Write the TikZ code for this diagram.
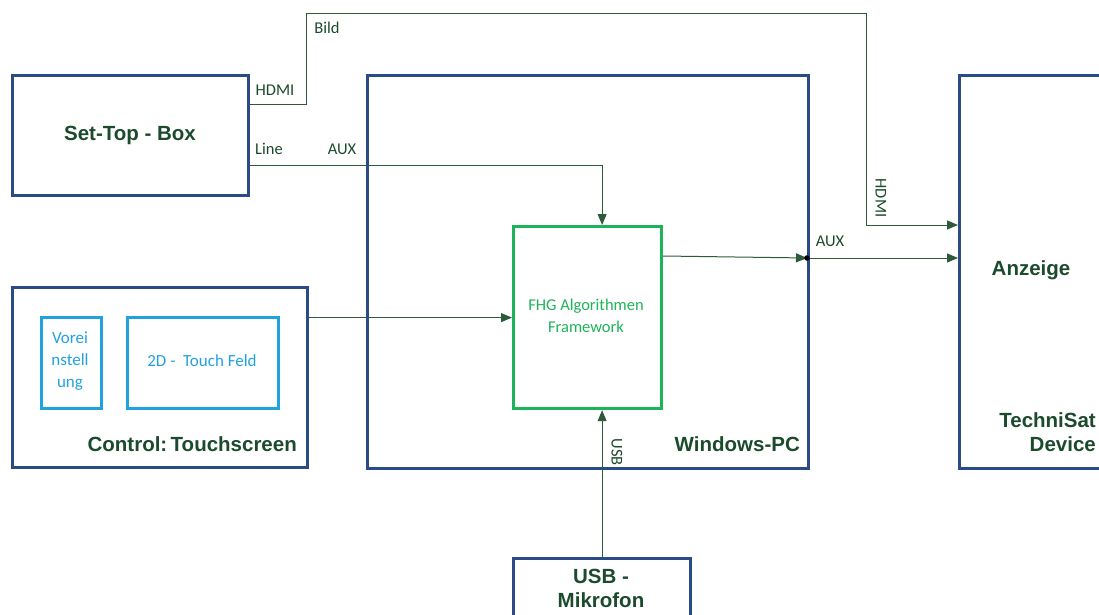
\documentclass[tikz,border=0pt]{standalone}
\usepackage{fontspec}
\setmainfont{Carlito}
\newfontfamily\headfont{Liberation Sans}
\usetikzlibrary{arrows.meta}
\definecolor{boxblue}{HTML}{2A4B85}
\definecolor{txtgreen}{HTML}{1B4A2C}
\definecolor{linegreen}{HTML}{2C5A3B}
\definecolor{lightblue}{HTML}{22A2DD}
\definecolor{fhggreen}{HTML}{1DB359}
\tikzset{
  blk/.style={draw=boxblue, line width=3.2pt, anchor=north west, inner sep=0pt},
  sub/.style={draw=lightblue, line width=3.2pt, anchor=north west, inner sep=0pt},
  fhgbox/.style={draw=fhggreen, line width=3.2pt, anchor=north west, inner sep=0pt},
  conn/.style={draw=linegreen, line width=1pt},
  arr/.style={conn, -{Triangle[length=11pt,width=9pt]}},
  head/.style={font=\headfont\bfseries\fontsize{20.5}{24}\selectfont, text=txtgreen, inner sep=0pt},
  lbl/.style={font=\fontsize{16.5}{18}\selectfont, text=txtgreen, inner sep=0pt},
  bluetxt/.style={font=\fontsize{17}{22}\selectfont, text=lightblue, inner sep=0pt, align=center},
}
\begin{document}
\begin{tikzpicture}[x=1pt,y=-1pt]
\useasboundingbox (0,0) rectangle (1099,615);
\clip (0,0) rectangle (1099,615);
% boxes
\node[blk, minimum width=236pt, minimum height=120pt] (stb) at (11,74) {};
\node[blk, minimum width=441pt, minimum height=393pt] (pc) at (366,74) {};
\node[blk, minimum width=170pt, minimum height=393pt] (anz) at (958,74) {};
\node[blk, minimum width=295pt, minimum height=180pt] (ctrl) at (11,286) {};
\node[sub, minimum width=60pt, minimum height=91pt] (vor) at (40,316) {};
\node[sub, minimum width=151pt, minimum height=91pt] (touch) at (126,316) {};
\node[fhgbox, minimum width=148pt, minimum height=182pt] (fhg) at (512,225) {};
\node[blk, minimum width=177pt, minimum height=90pt] (mic) at (512,557) {};
% box texts
\node[head] (stbt) at (130,135) {Set-Top - Box};
\node[head, anchor=east] (pct) at (800,444) {Windows-PC};
\node[head] (anzt) at (1031,270) {Anzeige};
\node[head, anchor=east, align=right, font=\headfont\bfseries\fontsize{20.5}{24}\selectfont] (tst) at (1096,432) {TechniSat\\Device};
\node[head, anchor=east] (ctrlt) at (297,444) {Control:\,Touchscreen};
\node[head, align=center, font=\headfont\bfseries\fontsize{20.5}{24}\selectfont] (mict) at (601,588) {USB -\\Mikrofon};
\node[bluetxt] (vort) at (70,361) {Vorei\\nstell\\ung};
\node[bluetxt] (toucht) at (202,361) {2D -\ \ Touch Feld};
\node[font=\fontsize{16.5}{22}\selectfont, text=fhggreen, align=center, inner sep=0pt] (fhgt) at (586,316) {FHG Algorithmen\\Framework};
% coordinates
\coordinate (h1) at (306,14);
\coordinate (h2) at (866,225);
\coordinate (dot) at (807,258);
% connectors
\draw[arr] ([yshift=-31pt]stb.north east) -| (h1) -| (h2) -- (h2 -| anz.west);
\draw[arr] ([yshift=-91pt]stb.north east) -| (mic.north |- fhg.north);
\draw[arr] (fhg.west -| ctrl.east) -- (fhg.west);
\draw[arr] ([yshift=-31pt]fhg.north east) -- (dot);
\draw[arr] (dot) -- (dot -| anz.west);
\draw[arr] (mic.north) -- (mic.north |- fhg.south);
\fill[black] (dot) circle (2.8pt);
% labels
\node[lbl] (bild) at (327,28) {Bild};
\node[lbl] (hdmi1) at (275,90) {HDMI};
\node[lbl] (line) at (269,149) {Line};
\node[lbl] (aux1) at (342,149) {AUX};
\node[lbl, rotate=-90] (hdmi2) at (881,198) {HDMI};
\node[lbl] (aux2) at (830,241) {AUX};
\node[lbl, rotate=-90] (usb) at (617,452) {USB};
\end{tikzpicture}
\end{document}
